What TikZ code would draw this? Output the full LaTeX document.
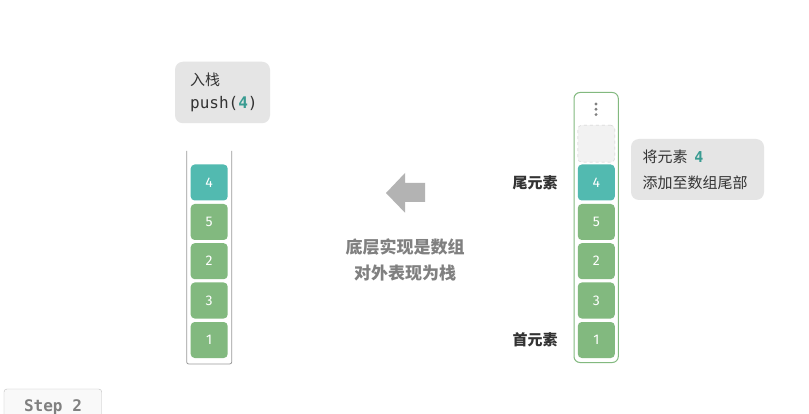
\documentclass[tikz,border=0pt]{standalone}
\usepackage{fontspec}
\setmainfont{Noto Sans CJK SC}
\newfontfamily\cjk{Noto Sans CJK SC}
\newfontfamily\monof{DejaVu Sans Mono}
\newfontfamily\numf{Fira Sans}
\definecolor{tealc}{HTML}{52BAB0}
\definecolor{greenc}{HTML}{82B97F}
\definecolor{calloutc}{HTML}{E5E5E5}
\definecolor{txtc}{HTML}{333333}
\definecolor{grayt}{HTML}{808080}
\definecolor{arrowc}{HTML}{B3B3B3}
\definecolor{tealtxt}{HTML}{3A9C92}
\tikzset{
  elem/.style={rounded corners=4pt, minimum width=37pt, minimum height=36pt, inner sep=0pt, text=white, font=\numf\fontsize{14}{14}\selectfont},
  greenel/.style={elem, fill=greenc},
  tealel/.style={elem, fill=tealc},
  callout/.style={rounded corners=8pt, fill=calloutc},
  sidelabel/.style={font=\cjk\bfseries\fontsize{15}{15}\selectfont, text=txtc},
  midlabel/.style={font=\cjk\bfseries\fontsize{17}{17}\selectfont, text=grayt},
  callouttext/.style={font=\cjk\fontsize{15}{15}\selectfont, text=txtc, anchor=west, inner sep=0pt},
}
\begin{document}
\begin{tikzpicture}[x=1pt,y=-1pt]
\useasboundingbox (0,0) rectangle (809,414);
\fill[white] (0,0) rectangle (809,414);

% left stack
\node[callout, minimum width=95pt, minimum height=61.5pt, inner sep=0pt] (lcall) at (222.5,92.5) {};
\node[callouttext] (lt1) at (190,80) {入栈};
\node[callouttext, font=\monof\fontsize{16}{16}\selectfont] (lt2) at (190,104) {push(\textcolor{tealtxt}{\bfseries 4})};
\draw[gray!80, line width=0.8pt, rounded corners=2pt] (186.7,151) -- (186.7,364) -- (231.7,364) -- (231.7,151);
\node[tealel] (l4) at (209.2,182.5) {4};
\node[greenel] (l5) at (209.2,222) {5};
\node[greenel] (l2) at (209.2,261.2) {2};
\node[greenel] (l3) at (209.2,300.5) {3};
\node[greenel] (l1) at (209.2,340) {1};

% arrow
\fill[arrowc] (386,193) -- (405,173) -- (405,183) -- (425,183) -- (425,202) -- (405,202) -- (405,212.7) -- cycle;
\node[midlabel] (m1) at (405,247) {底层实现是数组};
\node[midlabel] (m2) at (405,273) {对外表现为栈};

% right stack
\draw[greenc, line width=1pt, rounded corners=6pt] (574,92.5) rectangle (618.3,362.5);
\fill[gray] (596,104) circle (1.6pt) (596,109.3) circle (1.6pt) (596,114.6) circle (1.6pt);
\node[elem, fill=gray!10, draw=gray!40, dashed, minimum height=37pt] (re) at (596.3,143.7) {};
\node[tealel] (r4) at (596.3,182.5) {4};
\node[greenel] (r5) at (596.3,222) {5};
\node[greenel] (r2) at (596.3,261.2) {2};
\node[greenel] (r3) at (596.3,300.5) {3};
\node[greenel] (r1) at (596.3,340) {1};
\node[sidelabel] (tail) at (535,183) {尾元素};
\node[sidelabel] (head) at (535,340) {首元素};

\node[callout, minimum width=133pt, minimum height=61pt, inner sep=0pt] (rcall) at (697.5,169.5) {};
\node[callouttext] (rt1) at (642.5,157) {将元素 \ \textcolor{tealtxt}{\monof\bfseries 4}};
\node[callouttext] (rt2) at (642.5,182.5) {添加至数组尾部};

% step label
\draw[gray!50, fill=gray!5, rounded corners=3pt] (4,420) -- (4,389) -- (101.7,389) -- (101.7,420);
\node[font=\monof\bfseries\fontsize{16}{16}\selectfont, text=grayt] (step) at (53,407) {Step 2};
\end{tikzpicture}
\end{document}
